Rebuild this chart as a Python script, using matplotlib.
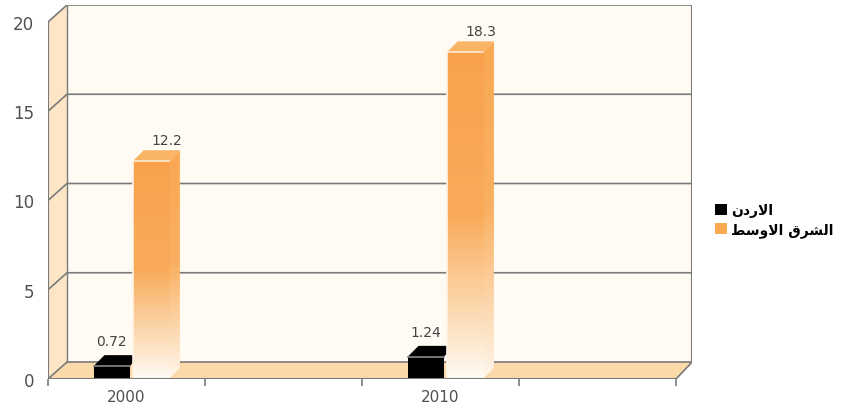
import numpy as np
import matplotlib.pyplot as plt
from matplotlib.patches import Polygon, Patch
from matplotlib.colors import LinearSegmentedColormap

# Dati
anni = ["2000", "2010"]
posizioni = [0, 2]            # slot di categoria occupati (4 slot in totale)
giordania = [0.72, 1.24]
medio_oriente = [12.2, 18.3]
serie_nomi = ["\ufee5\ufea9\ufead\ufefb\ufe8d",                              # الاردن
              "\ufec2\ufeb3\ufeed\ufefb\ufe8d \ufed5\ufeae\ufeb8\ufedf\ufe8d"]  # الشرق الاوسط
y_ticks = [0, 5, 10, 15, 20]
n_slot = 4

fig = plt.figure(figsize=(8.42, 4.10), dpi=100)
ax = fig.add_axes([48/842, 30/410, (692-48)/842, (380-6)/410])

ymax = 20
px_y = 17.85                  # pixel per unita' sull'asse y
px_x = 157                    # pixel per slot
dx, dy = 19/px_x, 17/px_y     # profondita' delle pareti
dxb, dyb = 11/px_x, 11/px_y   # profondita' delle barre
ax.set_xlim(0, n_slot + 16/px_x)
ax.set_ylim(0, ymax + dy)

bordo = "#7a7a7a"
# pareti
ax.add_patch(Polygon([(dx, dy), (n_slot+dx, dy), (n_slot+dx, ymax+dy), (dx, ymax+dy)],
                     closed=True, fc="#fffaf2", ec="none", zorder=0))
ax.add_patch(Polygon([(0, 0), (dx, dy), (dx, ymax+dy), (0, ymax)],
                     closed=True, fc="#fde6c6", ec="none", zorder=0))
ax.add_patch(Polygon([(0, 0), (n_slot, 0), (n_slot+dx*0.85, dy), (dx, dy)],
                     closed=True, fc="#fcd9a8", ec="none", zorder=0))
for v in y_ticks[1:]:
    ax.plot([0, dx, n_slot+dx], [v, v+dy, v+dy], color=bordo, lw=1.2, zorder=1)
ax.plot([dx, n_slot+dx], [dy, dy], color=bordo, lw=1.2, zorder=1)
ax.plot([0, dx], [0, dy], color=bordo, lw=1.2, zorder=1)
ax.plot([dx, dx], [dy, ymax+dy], color=bordo, lw=1.0, zorder=1)
ax.plot([n_slot+dx*0.85, n_slot+dx*0.85], [dy, ymax+dy], color=bordo, lw=1.5, zorder=1)
ax.plot([n_slot, n_slot+dx*0.85], [0, dy], color=bordo, lw=1.2, zorder=5)
ax.plot([0, 0], [0, ymax], color=bordo, lw=1.5, zorder=5)
ax.plot([0, n_slot], [0, 0], color=bordo, lw=1.5, zorder=5)

# gradiente per le barre arancioni
cmap = LinearSegmentedColormap.from_list("arancio", [(0, "#fffbf6"), (0.12, "#fde7cc"),
                                                    (0.5, "#f9ab5a"), (1, "#f8a24c")])
grad = np.linspace(0, 1, 256).reshape(-1, 1)

larg = 0.23
for i, p in enumerate(posizioni):
    # barra nera
    x0 = p + 0.29
    h = giordania[i]
    ax.bar(x0, h, width=larg, align="edge", color="black", edgecolor="none", zorder=3)
    ax.add_patch(Polygon([(x0, h), (x0+dxb, h+dyb), (x0+larg+dxb, h+dyb), (x0+larg, h)],
                         closed=True, fc="black", ec="none", zorder=3))
    ax.plot([x0, x0+larg], [h, h], color="#888888", lw=1.2, zorder=4)
    ax.text(x0 + larg/2, h + dyb + 0.4, f"{h:g}", ha="center", va="bottom",
            fontsize=10, color="#444444", zorder=6)

    # barra arancione
    x1 = x0 + larg + 0.02
    h = medio_oriente[i]
    lato = Polygon([(x1+larg, 0), (x1+larg+dxb, dyb), (x1+larg+dxb, h+dyb), (x1+larg, h)],
                   closed=True, fc="none", ec="none", zorder=4)
    ax.add_patch(lato)
    im = ax.imshow(grad, cmap=LinearSegmentedColormap.from_list(
        "lato", [(0, "#fff7ee"), (0.15, "#fde1c0"), (0.5, "#fab062"), (1, "#f9a853")]),
        extent=[x1+larg, x1+larg+dxb, 0, h+dyb], origin="lower", aspect="auto", zorder=4)
    im.set_clip_path(lato)
    fronte = ax.bar(x1, h, width=larg, align="edge", color="none", edgecolor="none", zorder=4)[0]
    im = ax.imshow(grad, cmap=cmap, extent=[x1, x1+larg, 0, h], origin="lower",
                   aspect="auto", zorder=4)
    im.set_clip_path(fronte)
    ax.add_patch(Polygon([(x1, h), (x1+dxb, h+dyb), (x1+larg+dxb, h+dyb), (x1+larg, h)],
                         closed=True, fc="#f9b466", ec="none", zorder=4))
    ax.plot([x1, x1+larg], [h, h], color="#fde9d2", lw=1.2, zorder=4)
    ax.plot([x1, x1], [0, h], color="#fff3e6", lw=1.2, zorder=4)
    ax.text(x1 + larg/2 + 0.1, h + dyb + 0.2, f"{h:g}", ha="center", va="bottom",
            fontsize=10, color="#444444", zorder=6)

ax.set_xlim(0, n_slot + 16/px_x)
ax.set_ylim(0, ymax + dy)

# assi
for s in ax.spines.values():
    s.set_visible(False)
ax.set_yticks(y_ticks)
ax.set_yticklabels([str(v) for v in y_ticks], fontsize=12, color="#505050")
ax.tick_params(axis="y", length=0, pad=10)
ax.set_xticks([p + 0.5 for p in posizioni])
ax.set_xticklabels(anni, fontsize=11, color="#505050")
ax.set_xticks(range(n_slot + 1), minor=True)
ax.tick_params(axis="x", which="major", length=0, pad=7)
ax.tick_params(axis="x", which="minor", length=5, width=1.2, color=bordo, direction="out")

handles = [Patch(fc="black", ec="none"), Patch(fc="#f9a94f", ec="none")]
fig.legend(handles, serie_nomi, loc="center left", bbox_to_anchor=(702/842, 1-221/410),
           frameon=False, handlelength=0.9, handleheight=0.9, handletextpad=0.3,
           labelspacing=0.35, prop={"family": "DejaVu Sans", "weight": "bold", "size": 10})

plt.savefig("out.png", dpi=100)
